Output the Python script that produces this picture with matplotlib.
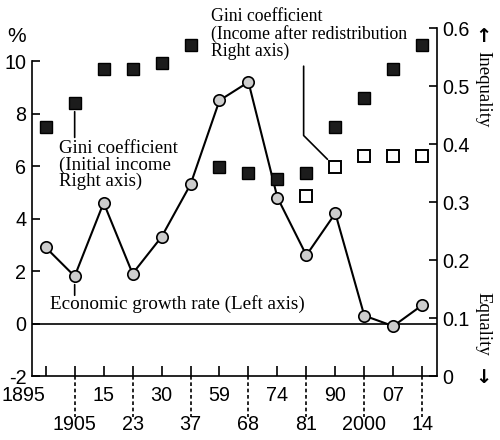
import matplotlib
matplotlib.use("Agg")
import matplotlib.pyplot as plt
import matplotlib.transforms as mtransforms
import numpy as np

# x categories (years), two label rows alternate
years = ['1895', '1905', '15', '23', '30', '37', '59', '68', '74', '81',
         '90', '2000', '07', '14']
# economic growth rate, % (left axis)
growth = [2.9, 1.8, 4.6, 1.9, 3.3, 5.3, 8.5, 9.2, 4.8, 2.6, 4.2, 0.3, -0.1, 0.7]
# Gini coefficient, initial income (right axis)
gini_initial = [0.43, 0.47, 0.53, 0.53, 0.54, 0.57, 0.36, 0.35, 0.34, 0.35,
                0.43, 0.48, 0.53, 0.57]
# Gini coefficient, income after redistribution (right axis)
after_years = ['81', '90', '2000', '07', '14']
gini_after = [0.31, 0.36, 0.38, 0.38, 0.38]

left_ticks = [-2, 0, 2, 4, 6, 8, 10]
right_ticks = [0, 0.1, 0.2, 0.3, 0.4, 0.5, 0.6]

SANS = ['Liberation Sans', 'DejaVu Sans']
SERIF = ['Liberation Serif', 'DejaVu Serif']
plt.rcParams['font.family'] = SANS

W, H = 500, 440


def fx(px):
    return px / W


def fy(py):
    return 1 - py / H


fig = plt.figure(figsize=(5, 4.4), dpi=100)
ax = fig.add_axes([fx(32), fy(376), (437 - 32) / W, (376 - 28) / H])
ax2 = ax.twinx()

x = np.arange(len(years))
x_after = [years.index(y) for y in after_years]

ax.set_xlim(-0.473, 13.51)
ax.set_ylim(-2, 11.26)
ax2.set_ylim(0, 0.6)

# spines
lw_sp = 1.2
ax.spines['top'].set_visible(False)
ax.spines['right'].set_visible(False)
ax.spines['left'].set_bounds(-2, 10)
for s in ['top', 'left', 'bottom']:
    ax2.spines[s].set_visible(False)
ax2.spines['right'].set_bounds(0, 0.6)
for sp in list(ax.spines.values()) + list(ax2.spines.values()):
    sp.set_linewidth(lw_sp)

# ticks
ts = 14.2
ax.set_yticks(left_ticks, labels=[str(t) for t in left_ticks])
ax2.set_yticks(right_ticks, labels=['0'] + ['%.1f' % t for t in right_ticks[1:]])
ax.tick_params(axis='y', direction='in', length=6, width=1.2, labelsize=ts, pad=4)
ax2.tick_params(axis='y', direction='in', length=6, width=1.2, labelsize=ts, pad=4)

ax.set_xticks(x[::2], labels=years[::2])
ax.set_xticks(x[1::2], labels=years[1::2], minor=True)
ax.tick_params(axis='x', which='both', direction='in', length=7, width=1.2,
               labelsize=ts)
ax.tick_params(axis='x', which='major', pad=7)
ax.tick_params(axis='x', which='minor', pad=28)
ax.get_xticklabels()[0].set_ha('right')

# dashed guides down to the second row of labels
blend = mtransforms.blended_transform_factory(ax.transData, ax.transAxes)
for i in x[1::2]:
    ax.plot([i, i], [0, -0.118], transform=blend, clip_on=False, color='k',
            lw=1.2, ls=(0, (2.2, 1.6)))

# zero line
ax.axhline(0, color='k', lw=1.2, zorder=1)

# series
ax.plot(x, growth, '-o', color='k', lw=1.5, ms=8.2, mfc='#cdcdcd', mec='k',
        mew=1.2, zorder=3, clip_on=False)
ax2.plot(x, gini_initial, 's', ms=9, mfc='#1c1c1c', mec='k', mew=1,
         ls='none', clip_on=False)
ax2.plot(x_after, gini_after, 's', ms=8.5, mfc='white', mec='k', mew=1.4,
         ls='none', clip_on=False)

# leader lines
ax2.annotate('', xy=(1, gini_initial[1]), xytext=(0, -34),
             textcoords='offset pixels',
             arrowprops=dict(arrowstyle='-', lw=1.2, color='k',
                             shrinkA=0, shrinkB=6))
i90 = after_years.index('90')
ax2.annotate('', xy=(x_after[i90], gini_after[i90]), xytext=(-31.7, 101),
             textcoords='offset pixels',
             arrowprops=dict(arrowstyle='-', lw=1.2, color='k',
                             connectionstyle='angle,angleA=90,angleB=-45,rad=0',
                             shrinkA=0, shrinkB=8))
ax.annotate('', xy=(1, growth[1]), xytext=(0, -19),
            textcoords='offset pixels',
            arrowprops=dict(arrowstyle='-', lw=1.2, color='k',
                            shrinkA=0, shrinkB=6))

# labels
fs = 13.6
fig.text(fx(59), fy(140), 'Gini coefficient\n(Initial income\nRight axis)',
         ha='left', va='top', family=SERIF, fontsize=fs, linespacing=0.95)
fig.text(fx(211), fy(8),
         'Gini coefficient\n(Income after redistribution\nRight axis)',
         ha='left', va='top', family=SERIF, fontsize=12.8, linespacing=1.0)
fig.text(fx(50), fy(304), 'Economic growth rate (Left axis)',
         ha='left', va='center', family=SERIF, fontsize=13.8)

fig.text(fx(17), fy(36), '%', ha='center', va='center', fontsize=15)

fig.text(fx(483), fy(36), '\u2191', ha='center', va='center', fontsize=14,
         fontweight='bold', family=['DejaVu Sans'])
fig.text(fx(483), fy(89), 'Inequality', ha='center', va='center',
         rotation=-90, family=SERIF, fontsize=fs)
fig.text(fx(483), fy(324), 'Equality', ha='center', va='center',
         rotation=-90, family=SERIF, fontsize=fs)
fig.text(fx(483), fy(377), '\u2193', ha='center', va='center', fontsize=14,
         fontweight='bold', family=['DejaVu Sans'])

fig.savefig('out.png', dpi=100)
